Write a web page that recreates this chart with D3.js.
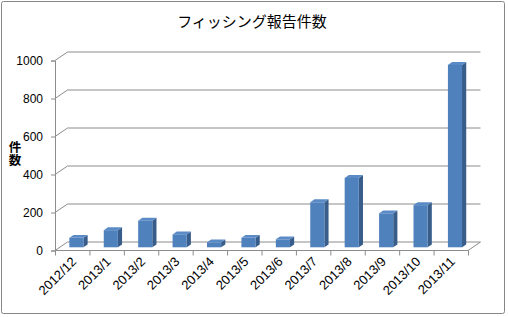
<!DOCTYPE html>
<html>
<head>
<meta charset="utf-8">
<script src="https://cdn.jsdelivr.net/npm/d3@7/dist/d3.min.js"></script>
<style>
  html, body { margin: 0; padding: 0; background: #fff; }
  svg { display: block; }
</style>
</head>
<body>
<svg id="chart"></svg>
<script>
const months = [
  "2012/12", "2013/1", "2013/2", "2013/3", "2013/4", "2013/5",
  "2013/6", "2013/7", "2013/8", "2013/9", "2013/10", "2013/11",
];
const reports = [50, 90, 140, 68, 26, 50, 42, 237, 365, 179, 222, 960];
const yTicks = [0, 200, 400, 600, 800, 1000];
const title = "フィッシング報告件数";
const yLabel = "件数";

const width = 508;
const height = 317;
const plotLeft = 55;
const plotRight = 468;
const plotBottom = 250.5;
const plotTop = 60.5;
// depth offset of the back wall
const wallDx = 12.5;
const wallDy = -8.5;
// bars sit part way into the floor
const barDx = 4.7;
const barDy = -3.2;
const sideDx = 4.2;
const sideDy = -2.9;

const svg = d3.select("#chart").attr("width", width).attr("height", height);

svg.append("rect")
  .attr("x", 1.5).attr("y", 1.5)
  .attr("width", 503).attr("height", 312)
  .attr("rx", 2)
  .attr("fill", "#fff")
  .attr("stroke", "#868686");

const x = d3.scaleBand().domain(months).range([plotLeft, plotRight]).padding(0);
const y = d3.scaleLinear().domain([0, 1000]).range([plotBottom, plotTop]);

// back wall gridlines with the diagonal connector on the side wall
const grid = svg.append("g").attr("fill", "none").attr("stroke", "#8c8c8c");
yTicks.forEach((v) => {
  grid.append("path")
    .attr("d", `M${plotLeft},${y(v)}L${plotLeft + wallDx},${y(v) + wallDy}H${plotRight + wallDx}`);
});
// floor front edge and right edge
grid.append("path")
  .attr("d", `M${plotLeft},${plotBottom}H${plotRight}L${plotRight + wallDx},${plotBottom + wallDy}`);

// y axis
const yAxis = svg.append("g")
  .attr("transform", `translate(${plotLeft},0)`)
  .call(d3.axisLeft(y).tickValues(yTicks).tickFormat(d3.format("d")).tickSize(4).tickPadding(8));
yAxis.select(".domain").attr("stroke", "#8c8c8c");
yAxis.selectAll(".tick line").attr("stroke", "#8c8c8c");
yAxis.selectAll("text")
  .attr("font-family", "'Liberation Sans', Arial, sans-serif")
  .attr("font-size", 12)
  .attr("fill", "#000");

// category ticks on the floor front edge
svg.append("g")
  .attr("stroke", "#8c8c8c")
  .selectAll("line")
  .data(months.concat([null]))
  .join("line")
  .attr("x1", (d) => (d === null ? plotRight : x(d)) + 0.5)
  .attr("x2", (d) => (d === null ? plotRight : x(d)) + 0.5)
  .attr("y1", plotBottom)
  .attr("y2", plotBottom + 5);

// bars
const bw = x.bandwidth() * 0.41;
const bx = (d) => x(d) + x.bandwidth() * 0.28 + barDx;
const bars = svg.append("g")
  .selectAll("g")
  .data(months.map((m, i) => ({ m, v: reports[i] })))
  .join("g");

bars.append("path")
  .attr("fill", "#385d8a")
  .attr("d", (d) => {
    const x0 = bx(d.m) + bw;
    const yb = y(0) + barDy;
    const yt = y(d.v) + barDy;
    return `M${x0},${yb}L${x0 + sideDx},${yb + sideDy}L${x0 + sideDx},${yt + sideDy}L${x0},${yt}Z`;
  });
bars.append("path")
  .attr("fill", "#5b8bc6")
  .attr("d", (d) => {
    const x0 = bx(d.m);
    const yt = y(d.v) + barDy;
    return `M${x0},${yt}L${x0 + sideDx},${yt + sideDy}L${x0 + bw + sideDx},${yt + sideDy}L${x0 + bw},${yt}Z`;
  });
bars.append("rect")
  .attr("fill", "#4f81bd")
  .attr("x", (d) => bx(d.m))
  .attr("y", (d) => y(d.v) + barDy)
  .attr("width", bw)
  .attr("height", (d) => y(0) - y(d.v));

// x labels rotated
svg.append("g")
  .selectAll("text")
  .data(months)
  .join("text")
  .attr("transform", (d) => `translate(${x(d) + x.bandwidth() / 2 + 5},${plotBottom + 12}) rotate(-45)`)
  .attr("text-anchor", "end")
  .attr("font-family", "'Liberation Sans', Arial, sans-serif")
  .attr("font-size", 13)
  .attr("fill", "#000")
  .text((d) => d);

// title
svg.append("text")
  .attr("x", 252)
  .attr("y", 27)
  .attr("text-anchor", "middle")
  .attr("font-family", "'Noto Sans CJK JP', sans-serif")
  .attr("font-size", 15)
  .attr("fill", "#000")
  .text(title);

// vertical axis title, stacked characters
svg.append("text")
  .attr("x", 15)
  .attr("y", 141)
  .attr("writing-mode", "tb")
  .style("writing-mode", "vertical-rl")
  .attr("font-family", "'Noto Sans CJK JP', sans-serif")
  .attr("font-weight", "bold")
  .attr("font-size", 12.5)
  .attr("fill", "#000")
  .text(yLabel);
</script>
</body>
</html>
